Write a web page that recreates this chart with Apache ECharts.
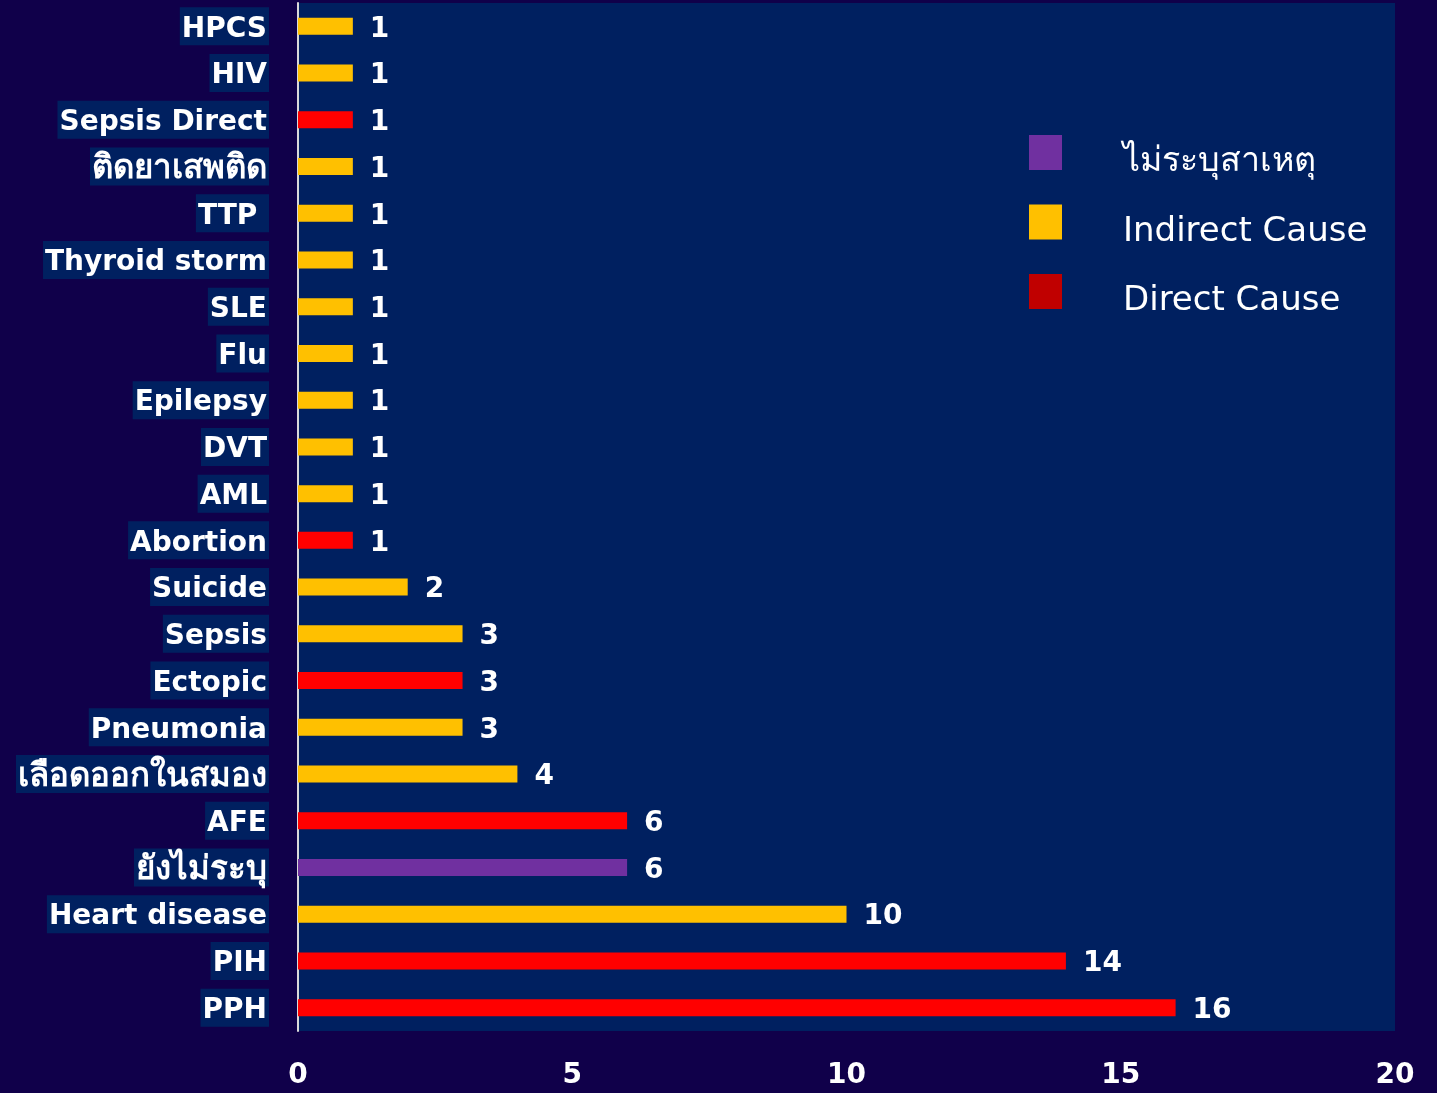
<!DOCTYPE html>
<html>
<head>
<meta charset="utf-8">
<script src="https://cdn.jsdelivr.net/npm/echarts@6/dist/echarts.min.js"></script>
<style>
html,body{margin:0;padding:0;background:#10004a;}
#c{width:1437px;height:1093px;}
</style>
</head>
<body>
<div id="c"></div>
<script>
// categories top to bottom
const categories = ['HPCS','HIV','Sepsis Direct','ติดยาเสพติด','TTP ','Thyroid storm','SLE','Flu','Epilepsy','DVT','AML','Abortion','Suicide','Sepsis','Ectopic','Pneumonia','เลือดออกในสมอง','AFE','ยังไม่ระบุ','Heart disease','PIH','PPH'];
const values = [1,1,1,1,1,1,1,1,1,1,1,1,2,3,3,3,4,6,6,10,14,16];
// U = unspecified, I = indirect, D = direct
const causeType = ['I','I','D','I','I','I','I','I','I','I','I','D','I','I','D','I','I','D','U','I','D','D'];
const seriesNames = ['ไม่ระบุสาเหตุ','Indirect Cause','Direct Cause'];
const seriesKeys = ['U','I','D'];
const xTicks = [0,5,10,15,20];

const barColors = {U:'#7030A0', I:'#FFC000', D:'#FF0000'};
const legendColors = {U:'#7030A0', I:'#FFC000', D:'#C00000'};
const FONT = '"DejaVu Sans", "Noto Sans", sans-serif';

const chart = echarts.init(document.getElementById('c'));
const series = seriesKeys.map((k, si) => ({
  name: seriesNames[si],
  type: 'bar',
  stack: 'all',
  barWidth: 17,
  itemStyle: {color: barColors[k]},
  label: {
    show: true, position: 'right', distance: 17,
    color: '#ffffff', fontSize: 28, fontWeight: 'bold', fontFamily: FONT,
    offset: [0, 3]
  },
  data: values.map((v, i) => causeType[i] === k ? v : '-')
}));

chart.setOption({
  backgroundColor: '#10004a',
  animation: false,
  legend: {
    orient: 'vertical',
    left: 1029, top: 135, padding: 0,
    itemWidth: 33, itemHeight: 35, itemGap: 25,
    icon: 'rect',
    data: seriesKeys.map((k, si) => ({name: seriesNames[si], itemStyle: {color: legendColors[k]}})),
    formatter: function (name) { return '{t|' + name + '}'; },
    textStyle: {
      color: '#ffffff', fontSize: 34, fontFamily: FONT, padding: [0, 0, 0, 56],
      rich: {t: {color: '#ffffff', fontSize: 34, fontFamily: FONT, padding: [20, 0, 0, 0]}}
    },
    selectedMode: false
  },
  grid: {
    left: 298, right: 42, top: 3, bottom: 62,
    show: true, backgroundColor: '#002060', borderWidth: 0,
    containLabel: false
  },
  xAxis: {
    type: 'value', min: xTicks[0], max: xTicks[xTicks.length - 1], interval: 5,
    axisLine: {show: false}, axisTick: {show: false}, splitLine: {show: false},
    axisLabel: {color: '#ffffff', fontSize: 28, fontWeight: 'bold', fontFamily: FONT, margin: 31}
  },
  yAxis: {
    type: 'category', data: categories, inverse: true,
    axisLine: {show: true, lineStyle: {color: '#d9d9d9', width: 2}},
    axisTick: {show: false},
    axisLabel: {
      color: '#ffffff', fontSize: 28, fontWeight: 'bold', fontFamily: FONT,
      margin: 29, backgroundColor: '#002060', padding: [6, 2, 0, 2], lineHeight: 32,
      formatter: function (v) {
        return /[\u0E00-\u0E7F]/.test(v) ? '{th|' + v + '}' : v;
      },
      rich: {
        th: {color: '#ffffff', fontSize: 33, fontWeight: 'bold', fontFamily: FONT, lineHeight: 32}
      }
    }
  },
  series: series
});
</script>
</body>
</html>
